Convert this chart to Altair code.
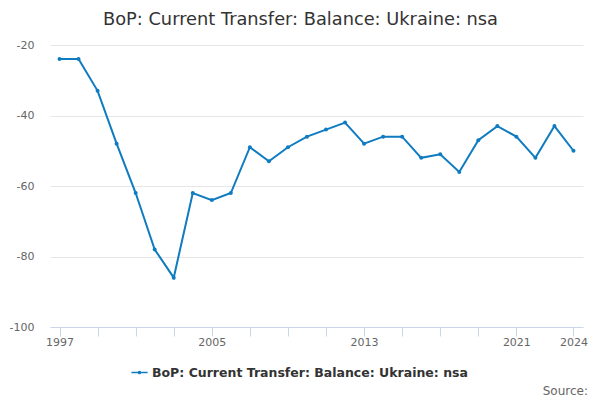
import altair as alt
import pandas as pd

years = list(range(1997, 2025))
values = [-24, -24, -33, -48, -62, -78, -86, -62, -64, -62, -49, -53, -49, -46,
          -44, -42, -48, -46, -46, -52, -51, -56, -47, -43, -46, -52, -43, -50]
series = "BoP: Current Transfer: Balance: Ukraine: nsa"
tick_years = list(range(1997, 2022, 2)) + [2024]
label_years = [1997, 2005, 2013, 2021, 2024]
y_ticks = [-100, -80, -60, -40, -20]

df = pd.DataFrame({"year": years, "value": values, "series": series})

FONT = "DejaVu Sans"
W, H = 533, 282
COLOR = "#0f7bc0"

label_expr = "indexof([" + ",".join(str(v) for v in label_years) + "], datum.value) >= 0 ? '' + datum.value : ''"

line = alt.Chart(df).mark_line(
    strokeWidth=2,
    point=alt.OverlayMarkDef(filled=True, size=16),
).encode(
    x=alt.X("year:Q",
            scale=alt.Scale(domain=[1996.5, 2024.5], nice=False, zero=False),
            axis=alt.Axis(values=tick_years, title=None, grid=False,
                          labelExpr=label_expr,
                          labelFont=FONT, labelFontSize=11, labelColor="#666666",
                          domainColor="#ccd6eb", tickColor="#ccd6eb", tickSize=9,
                          labelPadding=0, labelFlush=False, labelOverlap=False)),
    y=alt.Y("value:Q",
            scale=alt.Scale(domain=[-100, -20], nice=False, zero=False),
            axis=alt.Axis(values=y_ticks, title=None,
                          domain=False, ticks=False, gridColor="#e6e6e6",
                          labelExpr="'' + datum.value",
                          labelFont=FONT, labelFontSize=11, labelColor="#666666",
                          labelPadding=16)),
    color=alt.Color("series:N",
                    scale=alt.Scale(range=[COLOR]),
                    legend=alt.Legend(title=None, orient="none", legendX=81, legendY=319,
                                      labelFont=FONT, labelFontSize=12.5, labelFontWeight="bold",
                                      labelColor="#333333", labelLimit=0,
                                      symbolType="M-1,-0.1L1,-0.1L1,0.1L-1,0.1Z M-0.22,0A0.22,0.22 0 1,1 0.22,0A0.22,0.22 0 1,1 -0.22,0Z",
                                      symbolSize=260, symbolStrokeWidth=0,
                                      symbolFillColor=COLOR)),
)

source = alt.Chart(pd.DataFrame({"t": ["Source:"]})).mark_text(
    font=FONT, fontSize=12, color="#666666", align="right", baseline="alphabetic"
).encode(text="t:N", x=alt.value(538), y=alt.value(350))

chart = alt.layer(line, source).properties(
    width=W, height=H,
    title=alt.TitleParams(series, font=FONT, fontSize=17.8, fontWeight="normal",
                          color="#333333", anchor="middle", dx=-16, offset=10),
    autosize=alt.AutoSizeParams(type="none"),
    padding={"left": 42, "top": 37, "right": 9, "bottom": 73},
).configure_view(stroke=None)

chart.save("out.html", embed_options={"renderer": "svg", "actions": False})
